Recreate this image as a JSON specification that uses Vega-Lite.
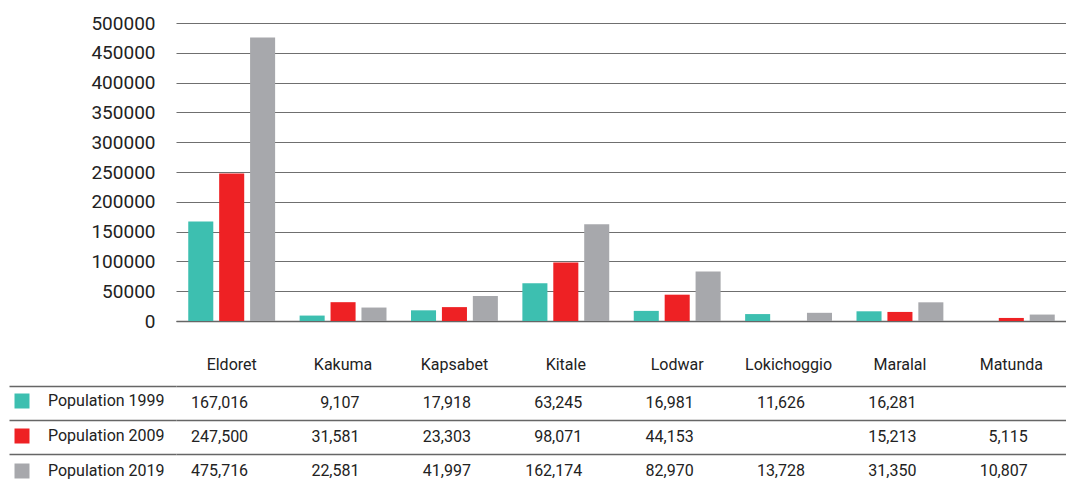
{
  "$schema": "https://vega.github.io/schema/vega-lite/v6.json",
  "padding": {"left": 8, "top": 14, "right": 0, "bottom": 0},
  "autosize": {"type": "pad"},
  "background": "white",
  "config": {
    "view": {"stroke": null},
    "font": "Roboto",
    "axis": {"labelFont": "Roboto", "labelColor": "#222222"}
  },
  "data": {
    "values": [
      {"city": "Eldoret", "series": "Population 1999", "value": 167016},
      {"city": "Eldoret", "series": "Population 2009", "value": 247500},
      {"city": "Eldoret", "series": "Population 2019", "value": 475716},
      {"city": "Kakuma", "series": "Population 1999", "value": 9107},
      {"city": "Kakuma", "series": "Population 2009", "value": 31581},
      {"city": "Kakuma", "series": "Population 2019", "value": 22581},
      {"city": "Kapsabet", "series": "Population 1999", "value": 17918},
      {"city": "Kapsabet", "series": "Population 2009", "value": 23303},
      {"city": "Kapsabet", "series": "Population 2019", "value": 41997},
      {"city": "Kitale", "series": "Population 1999", "value": 63245},
      {"city": "Kitale", "series": "Population 2009", "value": 98071},
      {"city": "Kitale", "series": "Population 2019", "value": 162174},
      {"city": "Lodwar", "series": "Population 1999", "value": 16981},
      {"city": "Lodwar", "series": "Population 2009", "value": 44153},
      {"city": "Lodwar", "series": "Population 2019", "value": 82970},
      {"city": "Lokichoggio", "series": "Population 1999", "value": 11626},
      {"city": "Lokichoggio", "series": "Population 2019", "value": 13728},
      {"city": "Maralal", "series": "Population 1999", "value": 16281},
      {"city": "Maralal", "series": "Population 2009", "value": 15213},
      {"city": "Maralal", "series": "Population 2019", "value": 31350},
      {"city": "Matunda", "series": "Population 2009", "value": 5115},
      {"city": "Matunda", "series": "Population 2019", "value": 10807}
    ]
  },
  "spacing": 65,
  "bounds": "flush",
  "resolve": {"scale": {"x": "shared", "y": "independent"}},
  "vconcat": [
    {
      "width": 891,
      "height": 298,
      "mark": {"type": "bar"},
      "encoding": {
        "x": {
          "field": "city", "type": "nominal", "sort": null,
          "scale": {"paddingInner": 0.22, "paddingOuter": 0.11},
          "axis": {"title": null, "labelAngle": 0, "ticks": false, "tickSize": 0, "labelPadding": 35, "labelFontSize": 16, "labelColor": "#222222", "domainColor": "#666666", "domainWidth": 1.5}
        },
        "xOffset": {
          "field": "series", "type": "nominal", "sort": null,
          "scale": {"paddingInner": 0.19, "paddingOuter": 0}
        },
        "y": {
          "field": "value", "type": "quantitative",
          "scale": {"domain": [0, 500000], "nice": false},
          "axis": {"title": null, "values": [0, 50000, 100000, 150000, 200000, 250000, 300000, 350000, 400000, 450000, 500000], "format": "d", "labelFontSize": 19, "labelColor": "#222222", "domain": false, "ticks": false, "labelPadding": 21, "gridColor": "#6f6f6f", "gridWidth": 1.2}
        },
        "color": {
          "field": "series", "type": "nominal",
          "scale": {"domain": ["Population 1999", "Population 2009", "Population 2019"], "range": ["#3dbfb0", "#ee2124", "#a7a8ac"]},
          "legend": {"title": null, "orient": "none", "legendX": -162, "legendY": 370, "direction": "vertical", "symbolType": "square", "symbolSize": 225, "symbolStrokeWidth": 0, "labelFontSize": 16, "labelColor": "#222222", "labelFont": "Roboto", "labelOffset": 18, "rowPadding": 19, "padding": 0}
        }
      }
    },
    {
      "width": 891,
      "height": 97,
      "mark": {"type": "text", "align": "right", "dx": -27, "fontSize": 16, "color": "#222222", "baseline": "middle", "font": "Roboto"},
      "encoding": {
        "x": {"field": "city", "type": "nominal", "sort": null, "bandPosition": 1, "axis": null},
        "y": {
          "field": "series", "type": "nominal", "sort": null,
          "scale": {"range": [0, 102], "paddingInner": 0, "paddingOuter": 0},
          "axis": {"title": null, "labels": false, "tickOffset": -17, "ticks": true, "tickSize": 167, "tickColor": "#666666", "tickWidth": 1.5, "grid": true, "gridColor": "#666666", "gridWidth": 1.5, "domain": false}
        },
        "text": {"field": "value", "type": "quantitative", "format": ","}
      }
    }
  ]
}
